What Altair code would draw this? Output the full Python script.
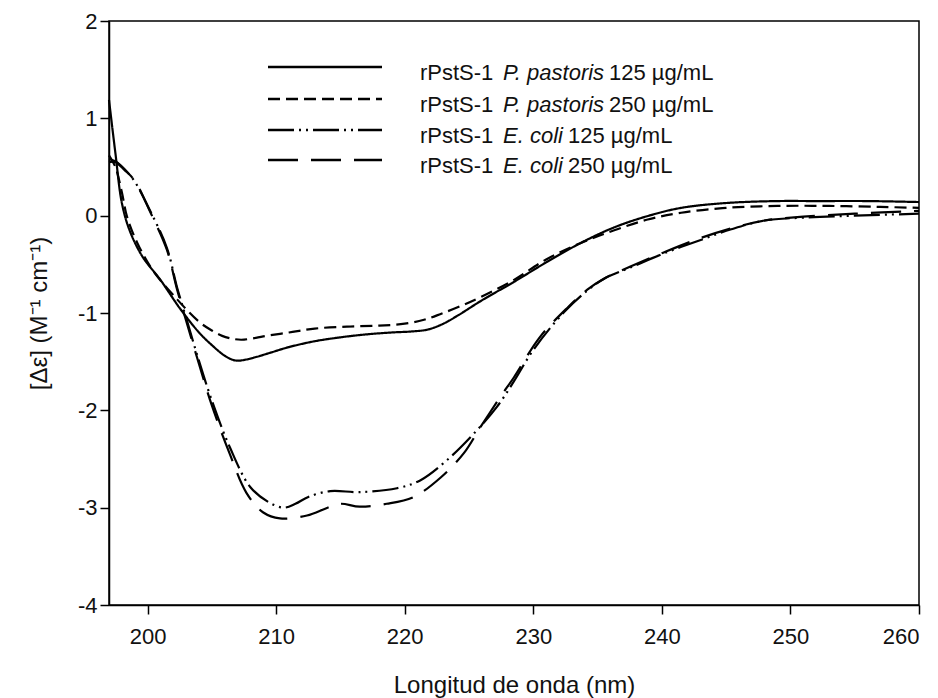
import altair as alt
import pandas as pd

# ---- data (wavelength nm, Δε) ----
wl_p125 = [197, 197.5, 198, 198.6, 199.6, 201, 202.5, 204, 205, 205.9, 206.5, 207, 207.6, 208.5, 209.5, 211, 213, 215,
           217, 219, 220.5, 221.8, 223, 224.2, 226, 228.5, 231, 233.7, 236.3, 239, 241.5, 245, 249, 252, 256, 260]
de_p125 = [1.19, 0.64, 0.13, -0.15, -0.42, -0.66, -0.95, -1.20, -1.33, -1.43, -1.475, -1.49, -1.48, -1.45, -1.41, -1.35, -1.29, -1.25,
           -1.22, -1.20, -1.19, -1.17, -1.11, -1.02, -0.87, -0.68, -0.48, -0.28, -0.12, 0.0, 0.08, 0.13, 0.15, 0.15, 0.15, 0.14]

wl_p250 = [197, 197.5, 198, 198.4, 199.2, 200.4, 202.3, 204, 205, 205.8, 206.6, 207.3, 208.2, 209, 211, 213, 215.5, 218,
           220, 221.5, 222.8, 224.5, 226, 228.5, 231, 233.7, 236.3, 238.9, 241.5, 245, 249, 253, 257, 260]
de_p250 = [0.62, 0.50, 0.24, -0.01, -0.28, -0.56, -0.86, -1.09, -1.18, -1.235, -1.265, -1.275, -1.26, -1.24, -1.20, -1.16, -1.14, -1.13,
           -1.11, -1.07, -1.01, -0.92, -0.83, -0.66, -0.45, -0.28, -0.15, -0.04, 0.03, 0.08, 0.10, 0.10, 0.09, 0.08]

wl_e125 = [197, 197.5, 198.2, 199, 200.2, 201.5, 202.3, 203, 203.9, 205, 206.4, 208, 209.5, 210.6, 211.5,
           212.5, 214.2, 216.5, 219.4, 221.2, 223.3, 225.3, 227.2, 228.5, 230, 232.4, 234.2, 235.6, 237.6, 240.1,
           242.8, 245.4, 248, 251, 255, 260]
de_e125 = [0.58, 0.56, 0.48, 0.35, 0.05, -0.33, -0.74, -1.05, -1.45, -1.90, -2.38, -2.79, -2.95, -3.00, -2.96,
           -2.89, -2.83, -2.84, -2.80, -2.72, -2.51, -2.25, -1.96, -1.70, -1.38, -0.99, -0.77, -0.64, -0.53, -0.39,
           -0.26, -0.14, -0.05, -0.02, 0.0, 0.02]

wl_e250 = [197, 197.5, 198.2, 199, 200.2, 201.5, 202.3, 203, 203.9, 205, 206.4, 207.7, 209, 210.3, 212.4,
           214, 215, 216.5, 218.6, 220.7, 222.8, 224.6, 225.9, 227.5, 228.5, 230.5, 232.7, 234.2, 235.6, 237.6, 240.1,
           242.8, 245.4, 248, 251, 255, 260]
de_e250 = [0.55, 0.55, 0.47, 0.36, 0.04, -0.35, -0.76, -1.08, -1.48, -1.95, -2.45, -2.85, -3.05, -3.11, -3.08,
           -3.00, -2.96, -2.99, -2.96, -2.89, -2.69, -2.44, -2.17, -1.85, -1.66, -1.25, -0.94, -0.76, -0.64, -0.52, -0.38,
           -0.24, -0.13, -0.05, -0.01, 0.02, 0.05]

series_keys = ["P125", "P250", "E125", "E250"]
leg_prefix = ["rPstS-1", "rPstS-1", "rPstS-1", "rPstS-1"]
leg_species = ["P. pastoris", "P. pastoris", "E. coli", "E. coli"]
leg_conc = ["125 \u00b5g/mL", "250 \u00b5g/mL", "125 \u00b5g/mL", "250 \u00b5g/mL"]

x_ticks = [200, 210, 220, 230, 240, 250, 260]
y_ticks = [-4, -3, -2, -1, 0, 1, 2]

# ---- layout / style constants (not data) ----
dash_styles = [[1, 0], [12, 6], [26, 5, 2, 5, 2, 5], [30, 13]]
leg_row_px = [46, 78, 109, 139]          # legend row y (pixels in plot area)
leg_conc_px = [500, 500, 459, 459]       # x of concentration text
FONT = "Liberation Sans"

rows = []
for key, wls, vals in [("P125", wl_p125, de_p125), ("P250", wl_p250, de_p250),
                       ("E125", wl_e125, de_e125), ("E250", wl_e250, de_e250)]:
    for i, (w, v) in enumerate(zip(wls, vals)):
        rows.append({"series": key, "wl": w, "de": v, "ord": i})
df = pd.DataFrame(rows)

leg = pd.DataFrame({
    "series": series_keys,
    "prefix": leg_prefix,
    "species": leg_species,
    "conc": leg_conc,
    "ly": leg_row_px,
    "ty": [y + 13 for y in leg_row_px],
    "cx": leg_conc_px,
})

dash_scale = alt.Scale(domain=series_keys, range=dash_styles)

lines = alt.Chart(df).mark_line(color="black", strokeWidth=2.2, interpolate="catmull-rom").encode(
    x=alt.X("wl:Q", scale=alt.Scale(domain=[197, 260], nice=False, zero=False),
            axis=alt.Axis(values=x_ticks, title="Longitud de onda (nm)", labelExpr="'' + datum.value",
                          titleY=87, titleBaseline="alphabetic", labelPadding=12)),
    y=alt.Y("de:Q", scale=alt.Scale(domain=[-4, 2], nice=False, zero=False),
            axis=alt.Axis(values=y_ticks, title="[\u0394\u03b5] (M\u207b\u00b9 cm\u207b\u00b9)",
                          labelExpr="'' + datum.value",
                          titleX=-63, titleBaseline="alphabetic", labelPadding=3)),
    strokeDash=alt.StrokeDash("series:N", scale=dash_scale, legend=None),
    detail="series:N",
    order="ord:Q",
)

leg_lines = alt.Chart(leg).mark_rule(color="black", strokeWidth=2.5).encode(
    x=alt.value(159),
    x2=alt.value(273),
    y=alt.Y("ly:Q", scale=None),
    strokeDash=alt.StrokeDash("series:N", scale=dash_scale, legend=None),
)

txt_kw = dict(font=FONT, fontSize=22, color="#111", align="left", baseline="alphabetic")
leg_t1 = alt.Chart(leg).mark_text(**txt_kw).encode(
    x=alt.value(311), y=alt.Y("ty:Q", scale=None), text="prefix:N")
leg_t2 = alt.Chart(leg).mark_text(fontStyle="italic", **txt_kw).encode(
    x=alt.value(394), y=alt.Y("ty:Q", scale=None), text="species:N")
leg_t3 = alt.Chart(leg).mark_text(**txt_kw).encode(
    x=alt.X("cx:Q", scale=None), y=alt.Y("ty:Q", scale=None), text="conc:N")

chart = alt.layer(lines, leg_lines, leg_t1, leg_t2, leg_t3).properties(
    width=810, height=584,
    autosize=alt.AutoSizeParams(type="none"),
    padding={"left": 109, "top": 21, "right": 19, "bottom": 93},
    background="white",
).configure_view(
    stroke="black", strokeWidth=1.5
).configure_axis(
    grid=False,
    domainColor="black", domainWidth=1.5,
    tickColor="black", tickWidth=1.5, tickSize=9,
    labelFont=FONT, labelFontSize=22, labelColor="#111",
    titleFont=FONT, titleFontSize=24, titleFontWeight="normal", titleColor="#111",
)

chart.save("out.html", embed_options={"renderer": "svg", "actions": False})
